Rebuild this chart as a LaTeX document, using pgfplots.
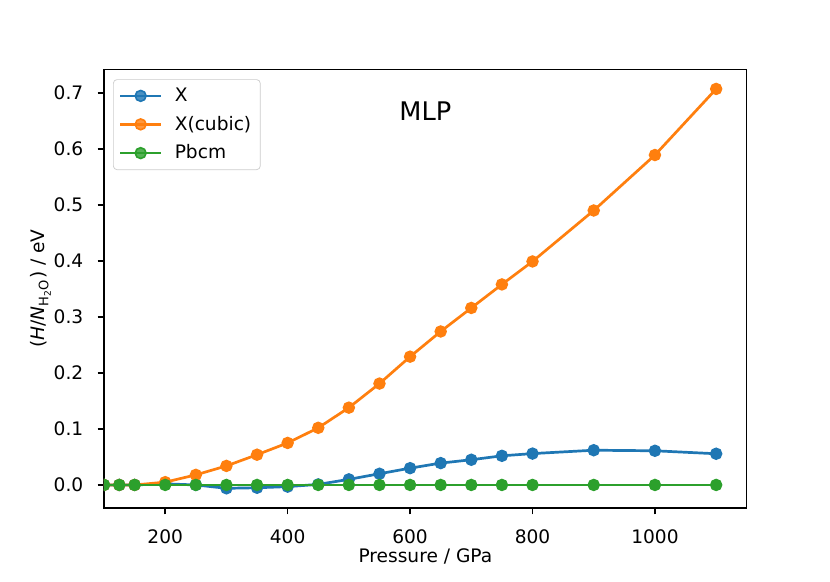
\documentclass[border=0pt]{standalone}
\usepackage{pgfplots}
\pgfplotsset{compat=1.18}
\usepackage{fontspec}
\setmainfont{DejaVu Sans}
\definecolor{tabblue}{HTML}{1F77B4}
\definecolor{taborange}{HTML}{FF7F0E}
\definecolor{tabgreen}{HTML}{2CA02C}
\pgfplotsset{
  mylegend/.style={legend image code/.code={%
    \draw[##1, line width=1.5pt] (0pt,0pt) -- (22.7pt,0pt);
    \draw[##1, mark repeat=2, mark phase=2] plot coordinates {(0pt,0pt) (11.35pt,0pt) (22.7pt,0pt)};
    \path (27.5pt,0pt);}},
}
\begin{document}
\begin{tikzpicture}
\path[use as bounding box] (-57.6pt,-40.4pt) rectangle (402.1pt,281.4pt);
\begin{axis}[
  at={(0,0)}, anchor=south west,
  scale only axis, width=356pt, height=243pt,
  xmin=100, xmax=1150, ymin=-0.0413, ymax=0.742,
  xtick={200,400,600,800,1000},
  ytick={0,0.1,0.2,0.3,0.4,0.5,0.6,0.7},
  xticklabel style={/pgf/number format/1000 sep={}},
  yticklabel style={/pgf/number format/fixed, /pgf/number format/fixed zerofill, /pgf/number format/precision=1},
  /pgf/number format/assume math mode=true,
  tick pos=left, tick align=outside,
  major tick length=3.5pt,
  every tick/.style={black, line width=0.8pt},
  axis line style={line width=0.8pt},
  ticklabel style={font=\fontsize{10.3}{12}\selectfont, inner sep=0pt},
  xticklabel style={anchor=base, yshift=-16.1pt},
  yticklabel style={anchor=east, xshift=-7.75pt},
  scaled ticks=false,
  xlabel={Pressure / GPa},
  xlabel style={font=\fontsize{10.3}{12}\selectfont, at={(axis description cs:0.5,0)}, anchor=base, inner sep=0pt, yshift=-30.2pt},
  ylabel={(\textit{H}/\textit{N}\textsubscript{H\textsubscript{2}O}) / eV},
  ylabel style={font=\fontsize{10.3}{12}\selectfont, at={(axis description cs:0,0.5)}, anchor=base, inner sep=0pt, yshift=32.7pt},
  clip marker paths=true,
  legend cell align=left,
  mylegend,
  legend style={at={(rel axis cs:0,1)}, anchor=north west, xshift=5pt, yshift=-5.5pt,
    draw=black!20, rounded corners=2pt, fill=white, fill opacity=0.8, text opacity=1,
    font=\fontsize{10.3}{12}\selectfont, row sep=2.6pt, inner xsep=3pt, inner ysep=2.5pt},
  every axis plot/.append style={line width=1.5pt, mark=*, mark size=3pt},
]
\addplot[color=tabblue, line width=1.5pt, mark options={fill=tabblue, draw=tabblue, line width=0.9pt}] coordinates {
(100,0) (125,0) (150,0) (200,0.002) (250,0.000) (300,-0.006) (350,-0.005) (400,-0.003)
(450,0.001) (500,0.010) (550,0.020) (600,0.030) (650,0.039) (700,0.045) (750,0.052)
(800,0.056) (900,0.062) (1000,0.061) (1100,0.0557)};
\addlegendentry{X}
\addplot[color=taborange, line width=1.5pt, mark options={fill=taborange, draw=taborange, line width=0.9pt}] coordinates {
(100,0) (125,0) (150,0) (200,0.005) (250,0.018) (300,0.034) (350,0.054) (400,0.075)
(450,0.102) (500,0.138) (550,0.181) (600,0.229) (650,0.274) (700,0.316) (750,0.358)
(800,0.399) (900,0.490) (1000,0.589) (1100,0.707)};
\addlegendentry{X(cubic)}
\addplot[color=tabgreen, line width=1.5pt, mark options={fill=tabgreen, draw=tabgreen, line width=0.9pt}] coordinates {
(100,0) (125,0) (150,0) (200,0) (250,0) (300,0) (350,0) (400,0)
(450,0) (500,0) (550,0) (600,0) (650,0) (700,0) (750,0)
(800,0) (900,0) (1000,0) (1100,0)};
\addlegendentry{Pbcm}
\node[font=\fontsize{14.2}{17}\selectfont, anchor=center] at (rel axis cs:0.5,0.905) {MLP};
\end{axis}
\end{tikzpicture}
\end{document}
